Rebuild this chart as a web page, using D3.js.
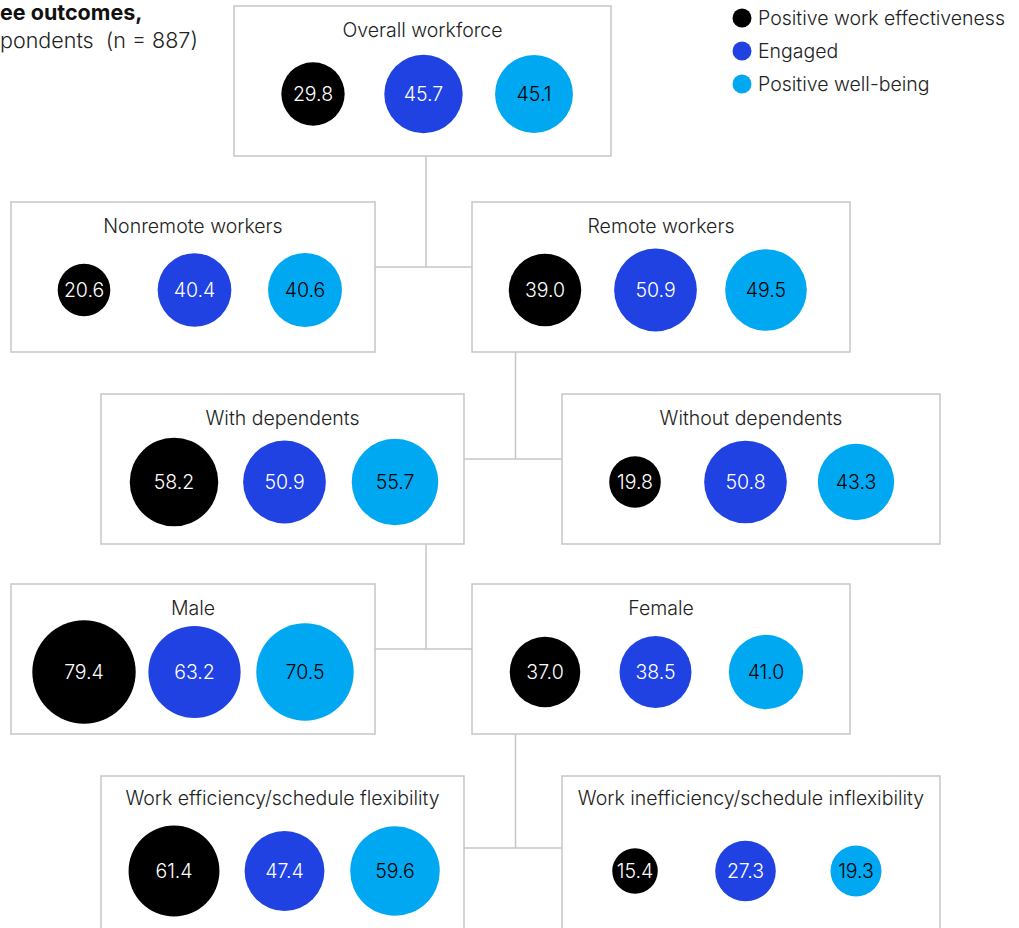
<!DOCTYPE html>
<html>
<head>
<meta charset="utf-8">
<script src="https://cdn.jsdelivr.net/npm/d3@7"></script>
<style>
  body { margin: 0; background: #fff; }
  svg { display: block; font-family: Inter, Roboto, "Liberation Sans", sans-serif; }
</style>
</head>
<body>
<svg id="chart" width="1019" height="928"></svg>
<script>
// groups and their outcome shares (%)
const groups = ["Overall workforce", "Nonremote workers", "Remote workers", "With dependents",
  "Without dependents", "Male", "Female", "Work efficiency/schedule flexibility",
  "Work inefficiency/schedule inflexibility"];
const effectiveness = [29.8, 20.6, 39.0, 58.2, 19.8, 79.4, 37.0, 61.4, 15.4];
const engaged = [45.7, 40.4, 50.9, 50.9, 50.8, 63.2, 38.5, 47.4, 27.3];
const wellbeing = [45.1, 40.6, 49.5, 55.7, 43.3, 70.5, 41.0, 59.6, 19.3];
const series = ["Positive work effectiveness", "Engaged", "Positive well-being"];
// tree: which group each box splits from
const parents = [null, 0, 0, 2, 2, 3, 3, 6, 6];
// heading lines (only their right ends are visible)
const titleLines = ["ee outcomes,", "pondents  (n = 887)"];

const colors = ["#000000", "#2142e3", "#00a8f2"];
const textColors = ["#ffffff", "#ffffff", "#000000"];

// box layout
const layout = [
  {x: 234, y: 6, w: 377, h: 150, dx: 6},
  {x: 11, y: 202, w: 364, h: 150, dx: 0},
  {x: 472, y: 202, w: 378, h: 150, dx: 0},
  {x: 101, y: 394, w: 363, h: 150, dx: 0},
  {x: 562, y: 394, w: 378, h: 150, dx: 0},
  {x: 11, y: 584, w: 364, h: 150, dx: 0},
  {x: 472, y: 584, w: 378, h: 150, dx: 0},
  {x: 101, y: 776, w: 363, h: 170, dx: 0},
  {x: 562, y: 776, w: 378, h: 170, dx: 0}
];

const svg = d3.select("#chart");
const r = d3.scaleSqrt().domain([0, 100]).range([0, 58]);
const xPos = d3.scalePoint().domain(series).range([73, 294]);
const color = d3.scaleOrdinal().domain(series).range(colors);
const tColor = d3.scaleOrdinal().domain(series).range(textColors);
const fmt = d3.format(".1f");
const cyOff = function(i) { return i >= 7 ? 95 : 88; };
const FS = 19.5;

const nodes = groups.map(function(g, i) {
  return {name: g, i: i, box: layout[i], parent: parents[i],
    vals: [effectiveness[i], engaged[i], wellbeing[i]]};
});

// connectors
const conn = svg.append("g").attr("stroke", "#c6c6c6").attr("stroke-width", 1.5);
[0, 2, 3, 6].forEach(function(p) {
  const kids = nodes.filter(function(n) { return n.parent === p; });
  const left = kids[0].box, right = kids[1].box, par = nodes[p].box;
  const mx = (left.x + left.w + right.x) / 2 + 2.5;
  const y = left.y + cyOff(kids[0].i) - 23;
  conn.append("line").attr("x1", mx).attr("x2", mx).attr("y1", par.y + par.h).attr("y2", y);
  conn.append("line").attr("x1", left.x + left.w).attr("x2", right.x).attr("y1", y).attr("y2", y);
});

const box = svg.selectAll("g.box")
  .data(nodes)
  .join("g")
  .attr("class", "box")
  .attr("transform", function(d) { return "translate(" + d.box.x + "," + d.box.y + ")"; });

box.append("rect")
  .attr("width", function(d) { return d.box.w; })
  .attr("height", function(d) { return d.box.h; })
  .attr("fill", "#fff")
  .attr("stroke", "#c6c6c6")
  .attr("stroke-width", 1.5);

box.append("text")
  .attr("x", function(d) { return d.box.w / 2; })
  .attr("y", function(d) { return d.i >= 7 ? 29 : 31; })
  .attr("text-anchor", "middle")
  .attr("font-size", FS)
  .attr("font-weight", 300)
  .attr("fill", "#222")
  .text(function(d) { return d.name; });

const bub = box.selectAll("g.bub")
  .data(function(d) {
    return d.vals.map(function(v, k) {
      return {s: series[k], v: v, dx: d.box.dx, cy: cyOff(d.i)};
    });
  })
  .join("g")
  .attr("class", "bub")
  .attr("transform", function(d) { return "translate(" + (xPos(d.s) + d.dx) + "," + d.cy + ")"; });

bub.append("circle")
  .attr("r", function(d) { return r(d.v); })
  .attr("fill", function(d) { return color(d.s); });

bub.append("text")
  .attr("text-anchor", "middle")
  .attr("dy", "0.36em")
  .attr("font-size", FS)
  .attr("font-weight", 300)
  .attr("fill", function(d) { return tColor(d.s); })
  .text(function(d) { return fmt(d.v); });

// heading, as much as the frame shows
svg.append("text")
  .attr("x", 0).attr("y", 20)
  .attr("font-size", 21.5)
  .attr("font-weight", 700)
  .attr("fill", "#111")
  .text(titleLines[0]);
svg.append("text")
  .attr("x", 0).attr("y", 48)
  .attr("font-size", 21.5)
  .attr("font-weight", 300)
  .attr("fill", "#222")
  .attr("xml:space", "preserve")
  .style("white-space", "pre")
  .text(titleLines[1]);

// legend
const leg = svg.append("g").attr("transform", "translate(742,18)")
  .selectAll("g")
  .data(series)
  .join("g")
  .attr("transform", function(d, i) { return "translate(0," + i * 33 + ")"; });
leg.append("circle").attr("r", 9.5).attr("fill", function(d) { return color(d); });
leg.append("text")
  .attr("x", 16)
  .attr("dy", "0.36em")
  .attr("font-size", FS)
  .attr("font-weight", 300)
  .attr("fill", "#222")
  .text(function(d) { return d; });
</script>
</body>
</html>
